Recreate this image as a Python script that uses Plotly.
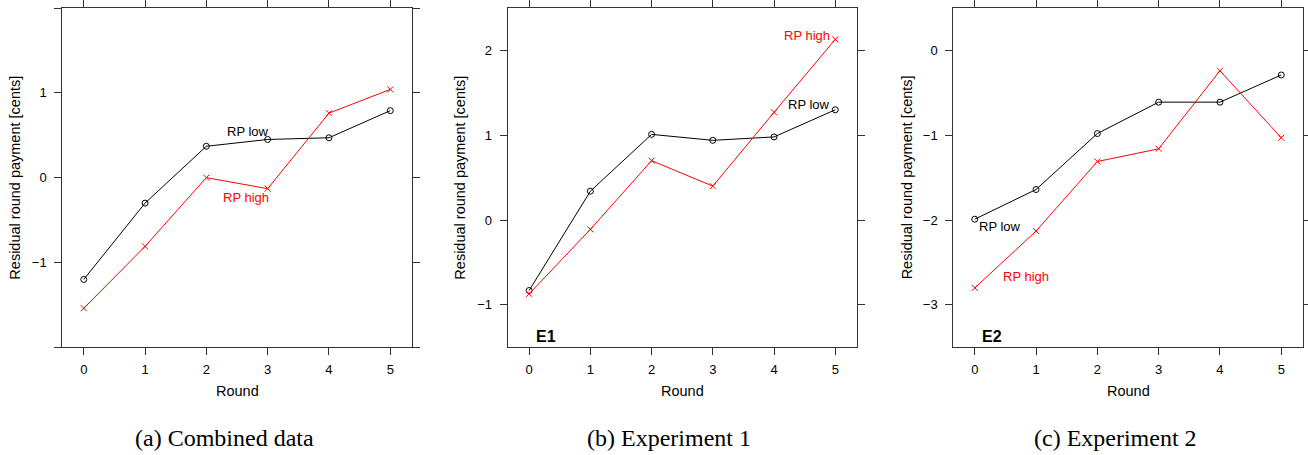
import plotly.graph_objects as go

rounds = [0, 1, 2, 3, 4, 5]

# Panel (a) Combined data
a_low = [-1.20, -0.30, 0.37, 0.45, 0.47, 0.79]
a_high = [-1.54, -0.81, 0.00, -0.13, 0.76, 1.04]
# Panel (b) Experiment 1
b_low = [-0.83, 0.34, 1.01, 0.94, 0.98, 1.30]
b_high = [-0.87, -0.11, 0.70, 0.40, 1.27, 2.13]
# Panel (c) Experiment 2
c_low = [-1.99, -1.64, -0.98, -0.61, -0.61, -0.29]
c_high = [-2.80, -2.13, -1.31, -1.16, -0.24, -1.03]

captions = ["(a) Combined data", "(b) Experiment 1", "(c) Experiment 2"]
y_ranges = [[-2, 2], [-1.5, 2.5], [-3.5, 0.5]]
y_ticks = [[-2, -1, 0, 1, 2], [-1, 0, 1, 2], [-3, -2, -1, 0]]
y_ticktext = [["", "\u22121", "0", "1", ""], ["\u22121", "0", "1", "2"],
              ["\u22123", "\u22122", "\u22121", "0"]]

W, H = 1308, 455
frames_px = [(62.3, 411.7), (507.7, 856.7), (953.3, 1302.7)]
ytop_px, ybot_px = 8, 347.3
ytitle_px = [15, 460, 906.7]
caption_px = [224, 669, 1115]

SANS = "Liberation Sans, Helvetica, Arial, sans-serif"
SERIF = "Liberation Serif, Times New Roman, serif"
AXC = "#333333"

fig = go.Figure()
series = [(a_low, a_high), (b_low, b_high), (c_low, c_high)]
for i, (low, high) in enumerate(series):
    xa = "x" if i == 0 else f"x{i+1}"
    ya = "y" if i == 0 else f"y{i+1}"
    fig.add_trace(go.Scatter(x=rounds, y=low, mode="lines+markers", xaxis=xa, yaxis=ya,
                             line=dict(color="black", width=1),
                             marker=dict(symbol="circle-open", size=6, color="black",
                                         line=dict(width=1, color="black")),
                             showlegend=False, cliponaxis=False))
    fig.add_trace(go.Scatter(x=rounds, y=high, mode="lines+markers", xaxis=xa, yaxis=ya,
                             line=dict(color="#ff0000", width=1),
                             marker=dict(symbol="x-thin-open", size=6, color="#ff0000",
                                         line=dict(width=1, color="#ff0000")),
                             showlegend=False, cliponaxis=False))

ydom = [1 - ybot_px / H, 1 - ytop_px / H]
layout = dict(width=W, height=H, autosize=False,
              margin=dict(l=0, r=0, t=0, b=0, pad=0, autoexpand=False),
              plot_bgcolor="white", paper_bgcolor="white",
              font=dict(family=SANS, size=13, color="black"))
for i in range(3):
    sfx = "" if i == 0 else str(i + 1)
    x0, x1 = frames_px[i]
    layout["xaxis" + sfx] = dict(domain=[x0 / W, x1 / W], range=[-0.35, 5.35],
                                 tickvals=rounds, ticks="outside", ticklen=7,
                                 tickcolor=AXC, showline=True, linecolor=AXC, linewidth=1,
                                 mirror="ticks", showgrid=False, zeroline=False,
                                 automargin=False,
                                 anchor="y" + sfx, tickfont=dict(size=13),
                                 ticklabelstandoff=3)
    layout["yaxis" + sfx] = dict(domain=ydom, range=y_ranges[i], tickvals=y_ticks[i],
                                 ticktext=y_ticktext[i], ticks="outside", ticklen=7,
                                 tickcolor=AXC, showline=True, linecolor=AXC, linewidth=1,
                                 mirror="ticks", showgrid=False, zeroline=False,
                                 automargin=False,
                                 anchor="x" + sfx, tickfont=dict(size=13),
                                 ticklabelstandoff=5)
fig.update_layout(**layout)

ann = []
for i in range(3):
    sfx = "" if i == 0 else str(i + 1)
    x0, x1 = frames_px[i]
    ann.append(dict(text="Residual round payment [cents]", textangle=-90,
                    xref="paper", yref="paper", x=ytitle_px[i] / W,
                    y=1 - (ytop_px + ybot_px) / 2 / H, showarrow=False,
                    xanchor="center", yanchor="middle",
                    font=dict(size=14.5, family=SANS)))
    ann.append(dict(text="Round", xref="paper", yref="paper",
                    x=(x0 + x1) / 2 / W, y=1 - 390.7 / H, showarrow=False,
                    xanchor="center", yanchor="middle",
                    font=dict(size=14.5, family=SANS)))
    ann.append(dict(text=captions[i], xref="paper", yref="paper",
                    x=caption_px[i] / W, y=1 - 438 / H, showarrow=False,
                    xanchor="center", yanchor="middle",
                    font=dict(size=24, family=SERIF)))

def lab(txt, x, y, sfx, color, xanchor="center", bold=False, size=13):
    return dict(text=f"<b>{txt}</b>" if bold else txt, x=x, y=y,
                xref="x" + sfx, yref="y" + sfx, showarrow=False,
                xanchor=xanchor, yanchor="middle",
                font=dict(size=size, color=color, family=SANS))

ann += [
    lab("RP low", 2.68, 0.54, "", "black"),
    lab("RP high", 2.64, -0.23, "", "#ff0000"),
    lab("RP high", 4.95, 2.18, "2", "#ff0000", xanchor="right"),
    lab("RP low", 4.95, 1.36, "2", "black", xanchor="right"),
    lab("E1", 0.28, -1.377, "2", "black", bold=True, size=16),
    lab("RP low", 0.04, -2.07, "3", "black", xanchor="left"),
    lab("RP high", 0.42, -2.67, "3", "#ff0000", xanchor="left"),
    lab("E2", 0.28, -3.377, "3", "black", bold=True, size=16),
]
fig.update_layout(annotations=ann)
fig.write_html("out.html", config={"displayModeBar": False},
               post_script="document.body.style.margin='0';")
